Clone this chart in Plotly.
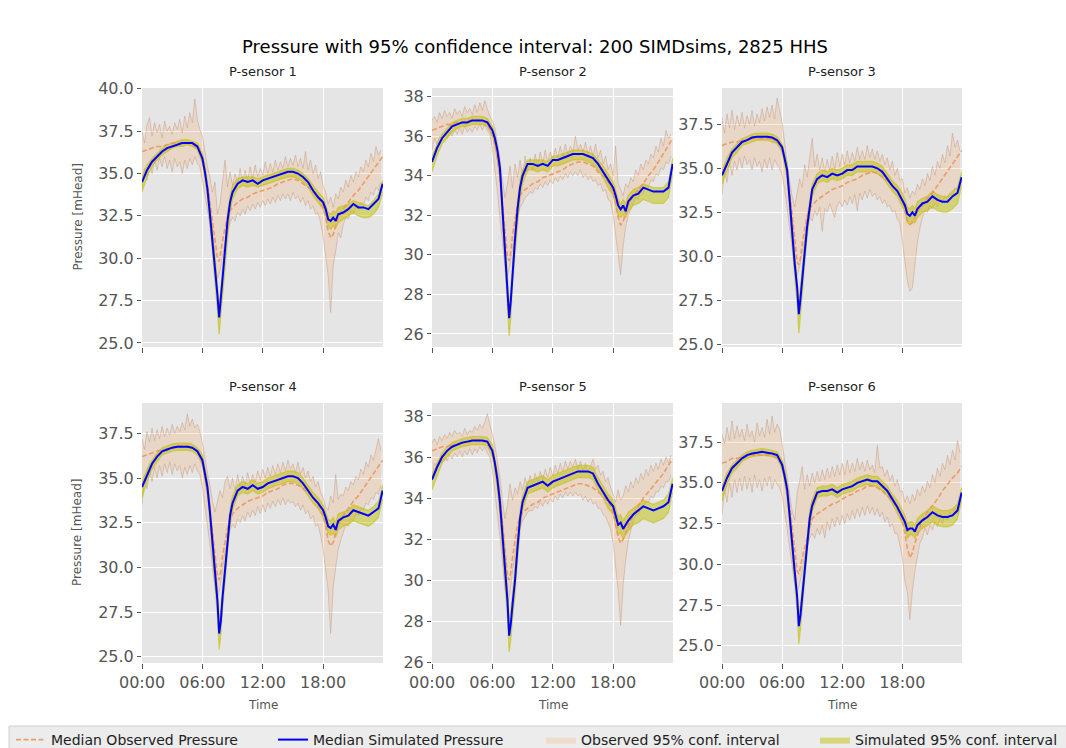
import pandas as pd
import plotly.graph_objects as go

# ---------------------------------------------------------------- data
SENSORS = ["P-sensor 1", "P-sensor 2", "P-sensor 3", "P-sensor 4", "P-sensor 5", "P-sensor 6"]
LEGEND_NAMES = ["Median Observed Pressure", "Median Simulated Pressure",
                "Observed 95% conf. interval", "Simulated 95% conf. interval"]

COARSE_TIMES = ["00:00", "00:30", "01:00", "01:30", "02:00", "02:30", "03:00", "03:30", "04:00", "04:30",
                "05:00", "05:30", "06:00", "06:15", "06:30", "06:45", "07:00", "07:15", "07:30", "07:40",
                "07:50", "08:00", "08:15", "08:30", "08:45", "09:00", "09:30", "10:00", "10:30", "11:00",
                "11:30", "12:00", "12:30", "13:00", "13:30", "14:00", "14:30", "15:00", "15:30", "16:00",
                "16:30", "17:00", "17:30", "18:00", "18:15", "18:30", "18:45", "19:00", "19:15", "19:30",
                "20:00", "20:30", "21:00", "21:30", "22:00", "22:30", "23:00", "23:30", "23:55"]
FINE_START = "2020-01-01 00:00"
FINE_COUNT = 96
FINE_STEP = "15min"

TICK_TIMES = ["00:00", "06:00", "12:00", "18:00"]

# ---- sensor 1
SIM_MED_1 = [34.5, 35.2, 35.7, 36.0, 36.3, 36.5, 36.6, 36.7, 36.8, 36.8, 36.8, 36.6,
             35.9, 35.1, 34.1, 32.6, 31.1, 29.6, 27.8, 26.5, 27.6, 28.5, 30.2, 32.2, 33.3, 33.9,
             34.4, 34.6, 34.5, 34.6, 34.4, 34.6, 34.7, 34.8, 34.9, 35.0, 35.1, 35.1, 35.0, 34.8, 34.5, 34.0, 33.6,
             33.3, 32.9, 32.3, 32.2, 32.4, 32.2, 32.6,
             32.7, 32.9, 33.2, 33.0, 33.0, 32.9, 33.2, 33.5, 34.4]
SIM_LO_1 = [33.9, 34.8, 35.4, 35.8, 36.1, 36.3, 36.5, 36.6, 36.6, 36.7, 36.6, 36.4,
            35.6, 34.7, 33.6, 32.0, 30.4, 28.8, 26.9, 25.5, 26.6, 27.6, 29.3, 31.4, 32.7, 33.5,
            34.1, 34.3, 34.2, 34.3, 34.2, 34.3, 34.4, 34.5, 34.6, 34.7, 34.8, 34.8, 34.7, 34.5, 34.2, 33.7, 33.3,
            32.9, 32.5, 31.9, 31.7, 31.9, 31.8, 32.1,
            32.3, 32.5, 32.7, 32.5, 32.4, 32.4, 32.6, 33.0, 33.9]
SIM_HI_1 = [34.8, 35.5, 35.9, 36.2, 36.5, 36.7, 36.8, 36.9, 37.0, 37.0, 36.9, 36.8,
            36.2, 35.5, 34.5, 33.1, 31.6, 30.2, 28.4, 27.2, 28.2, 29.2, 30.8, 32.7, 33.7, 34.3,
            34.7, 34.8, 34.8, 34.8, 34.7, 34.8, 34.9, 35.0, 35.1, 35.2, 35.3, 35.3, 35.2, 35.0, 34.7, 34.3, 33.9,
            33.6, 33.2, 32.7, 32.6, 32.8, 32.7, 33.0,
            33.1, 33.2, 33.4, 33.3, 33.2, 33.1, 33.4, 33.8, 34.6]
OBS_MED_1 = [36.3, 36.4, 36.5, 36.6, 36.6, 36.7, 36.8, 36.8, 36.8, 36.8, 36.7, 36.5,
             35.9, 35.2, 34.3, 33.3, 32.2, 31.0, 30.0, 29.8, 30.3, 31.0, 31.8, 32.4, 32.8, 33.0,
             33.3, 33.5, 33.6, 33.8, 33.9, 34.0, 34.1, 34.2, 34.4, 34.5, 34.6, 34.7, 34.6, 34.4, 34.2, 33.9, 33.6,
             33.0, 32.4, 31.6, 31.2, 31.4, 31.9, 32.4,
             32.9, 33.3, 33.7, 34.0, 34.4, 34.8, 35.2, 35.6, 36.0]
OBS_HI_1 = [37.5, 36.8, 37.9, 38.3, 37.2, 38.0, 37.4, 37.9, 37.1, 38.1, 37.5, 37.8, 37.3, 38.0, 37.6, 38.2,
            37.4, 38.4, 37.7, 38.6, 38.0, 39.4, 38.2, 37.6, 37.2, 36.3, 35.4, 34.8, 33.9, 34.5, 32.6, 33.2,
            34.7, 35.8, 34.2, 35.1, 34.3, 35.0, 34.4, 35.3, 34.5, 35.2, 34.6, 35.4, 34.7, 35.5, 34.8, 35.3,
            34.9, 35.7, 35.0, 35.6, 35.1, 35.8, 35.2, 35.7, 35.3, 36.0, 35.4, 35.9, 35.5, 36.1, 35.4, 35.9,
            35.3, 36.3, 35.2, 35.8, 35.0, 35.5, 34.7, 35.1, 34.3, 33.9, 33.2, 33.6, 33.0, 33.8, 33.5, 34.2,
            33.9, 34.6, 34.2, 34.9, 34.5, 35.1, 34.8, 35.4, 35.1, 35.8, 35.4, 36.2, 35.7, 36.6, 36.1, 36.4]
OBS_LO_1 = [34.0, 35.3, 34.6, 35.6, 35.0, 35.8, 35.2, 35.9, 35.4, 36.0, 35.3, 35.8, 35.1, 35.9, 35.4, 35.7,
            35.0, 35.8, 35.3, 35.9, 35.5, 36.0, 35.6, 35.4, 34.6, 33.8, 32.9, 32.0, 30.6, 29.6, 28.8, 29.2,
            30.2, 31.0, 31.6, 32.1, 32.4, 32.2, 32.7, 32.5, 32.9, 32.6, 33.1, 32.8, 33.2, 32.9, 33.3, 33.0,
            33.4, 33.1, 33.5, 33.2, 33.6, 33.3, 33.7, 33.4, 33.8, 33.5, 33.8, 33.4, 33.9, 33.5, 33.7, 33.3,
            33.6, 33.1, 33.4, 32.9, 33.1, 32.6, 32.7, 32.1, 31.3, 30.2, 29.0, 26.8, 29.6, 30.4, 31.5, 31.2,
            32.0, 32.4, 32.3, 32.8, 32.6, 33.0, 32.9, 33.3, 33.1, 33.6, 33.4, 33.9, 33.7, 34.2, 34.0, 34.5]

# ---- sensor 2
SIM_MED_2 = [34.7, 35.4, 35.9, 36.2, 36.5, 36.6, 36.7, 36.7, 36.8, 36.8, 36.8, 36.7,
             36.3, 35.9, 35.3, 34.4, 32.4, 30.5, 28.0, 26.8, 27.7, 29.2, 30.8, 32.3, 33.4, 34.0,
             34.6, 34.6, 34.5, 34.6, 34.5, 34.8, 34.8, 34.9, 35.0, 35.1, 35.1, 35.1, 35.0, 34.9, 34.6, 34.2, 33.8,
             33.4, 33.0, 32.5, 32.3, 32.5, 32.2, 32.7,
             33.0, 33.1, 33.4, 33.3, 33.2, 33.2, 33.2, 33.4, 34.6]
SIM_LO_2 = [34.2, 35.0, 35.6, 35.9, 36.2, 36.4, 36.5, 36.5, 36.6, 36.6, 36.6, 36.5,
            36.0, 35.5, 34.8, 33.8, 31.7, 29.7, 27.1, 25.9, 26.8, 28.4, 30.0, 31.6, 32.8, 33.6,
            34.3, 34.3, 34.2, 34.3, 34.2, 34.5, 34.5, 34.6, 34.7, 34.8, 34.8, 34.8, 34.7, 34.6, 34.3, 33.9, 33.4,
            33.0, 32.5, 32.0, 31.9, 32.0, 31.9, 32.2,
            32.5, 32.6, 32.8, 32.7, 32.6, 32.6, 32.6, 32.9, 34.1]
SIM_HI_2 = [35.0, 35.6, 36.1, 36.4, 36.7, 36.8, 36.9, 36.9, 37.0, 37.0, 37.0, 36.9,
            36.5, 36.1, 35.5, 34.7, 32.8, 31.0, 28.6, 27.4, 28.2, 29.7, 31.3, 32.8, 33.8, 34.3,
            34.8, 34.8, 34.8, 34.8, 34.7, 35.0, 35.0, 35.1, 35.2, 35.3, 35.3, 35.3, 35.2, 35.1, 34.8, 34.5, 34.1,
            33.7, 33.3, 32.8, 32.6, 32.8, 32.6, 33.0,
            33.3, 33.4, 33.6, 33.5, 33.4, 33.4, 33.4, 33.7, 34.9]
OBS_MED_2 = [36.3, 36.4, 36.5, 36.6, 36.6, 36.7, 36.7, 36.8, 36.8, 36.8, 36.8, 36.6,
             36.1, 35.6, 34.9, 33.9, 32.6, 31.2, 29.9, 29.7, 30.2, 31.0, 31.9, 32.6, 33.0, 33.2,
             33.4, 33.6, 33.7, 33.9, 34.0, 34.1, 34.2, 34.3, 34.5, 34.6, 34.7, 34.7, 34.6, 34.5, 34.2, 34.0, 33.7,
             33.2, 32.6, 31.9, 31.5, 31.7, 32.1, 32.5,
             33.0, 33.3, 33.6, 34.0, 34.3, 34.7, 35.1, 35.5, 35.9]
OBS_HI_2 = [36.8, 37.0, 36.7, 37.2, 36.9, 37.3, 37.0, 37.2, 36.9, 37.4, 37.1, 37.3, 37.0, 37.5, 37.2, 37.4,
            37.1, 37.6, 37.2, 37.7, 37.3, 37.8, 37.4, 37.0, 36.8, 36.4, 35.7, 34.9, 33.8, 32.9, 33.6, 34.5,
            33.4, 34.6, 33.9, 34.8, 34.0, 35.0, 34.2, 34.9, 34.3, 35.1, 34.5, 35.2, 34.6, 35.3, 34.7, 35.2,
            34.8, 35.4, 34.9, 35.5, 35.0, 35.6, 35.1, 35.5, 35.2, 36.0, 35.3, 35.6, 35.2, 35.7, 35.1, 35.5,
            35.0, 35.6, 34.9, 35.3, 34.6, 35.0, 34.3, 34.6, 34.0, 35.5, 33.6, 33.3, 33.0, 33.6, 33.4, 33.9,
            33.7, 34.3, 34.0, 34.6, 34.3, 34.8, 34.6, 35.1, 34.9, 35.5, 35.2, 35.9, 35.5, 36.3, 35.9, 36.1]
OBS_LO_2 = [35.3, 35.9, 35.6, 36.0, 35.8, 36.1, 35.9, 36.2, 36.0, 36.3, 36.1, 36.4, 36.1, 36.5, 36.2, 36.4,
            36.2, 36.5, 36.3, 36.6, 36.3, 36.6, 36.3, 36.1, 35.4, 34.4, 33.2, 31.9, 30.7, 29.4, 28.9, 29.5,
            30.3, 31.2, 31.9, 32.4, 32.6, 32.9, 33.0, 33.2, 33.1, 33.4, 33.3, 33.6, 33.4, 33.7, 33.5, 33.8,
            33.6, 33.9, 33.7, 34.0, 33.8, 34.1, 33.9, 34.2, 34.0, 34.2, 34.0, 34.3, 33.9, 34.1, 33.8, 34.0,
            33.7, 33.8, 33.5, 33.6, 33.2, 33.3, 32.8, 32.7, 32.0, 31.0, 29.9, 29.0, 30.5, 31.4, 32.0, 32.3,
            32.6, 32.9, 32.8, 33.2, 33.1, 33.5, 33.4, 33.8, 33.7, 34.1, 34.0, 34.4, 34.3, 34.7, 34.6, 35.0]

# ---- sensor 3
SIM_MED_3 = [34.6, 35.3, 35.9, 36.2, 36.5, 36.6, 36.75, 36.8, 36.8, 36.8, 36.75, 36.6,
             36.2, 35.6, 34.9, 33.2, 31.3, 29.6, 28.2, 26.7, 27.6, 28.8, 30.2, 31.7, 32.9, 33.8,
             34.4, 34.6, 34.5, 34.7, 34.6, 34.7, 34.9, 34.9, 35.1, 35.1, 35.1, 35.1, 35.0, 34.8, 34.4, 34.0, 33.7,
             33.2, 32.9, 32.4, 32.3, 32.5, 32.3, 32.7,
             33.0, 33.1, 33.4, 33.2, 33.1, 33.1, 33.4, 33.6, 34.5]
SIM_LO_3 = [34.1, 34.9, 35.6, 35.9, 36.3, 36.4, 36.5, 36.6, 36.6, 36.6, 36.5, 36.4,
            35.9, 35.2, 34.4, 32.6, 30.6, 28.8, 27.3, 25.6, 26.6, 28.0, 29.5, 31.1, 32.4, 33.4,
            34.1, 34.3, 34.2, 34.4, 34.3, 34.4, 34.6, 34.6, 34.8, 34.8, 34.8, 34.8, 34.7, 34.5, 34.1, 33.7, 33.4,
            32.8, 32.5, 31.9, 31.8, 32.0, 31.9, 32.2,
            32.5, 32.6, 32.8, 32.6, 32.5, 32.5, 32.7, 33.0, 34.0]
SIM_HI_3 = [34.9, 35.6, 36.1, 36.4, 36.7, 36.8, 36.95, 37.0, 37.0, 37.0, 36.95, 36.8,
            36.4, 35.9, 35.3, 33.7, 31.9, 30.2, 28.8, 27.4, 28.3, 29.4, 30.8, 32.2, 33.3, 34.1,
            34.7, 34.9, 34.8, 35.0, 34.9, 35.0, 35.2, 35.2, 35.4, 35.4, 35.4, 35.4, 35.3, 35.1, 34.7, 34.3, 34.0,
            33.6, 33.2, 32.8, 32.7, 32.9, 32.7, 33.1,
            33.3, 33.4, 33.7, 33.5, 33.4, 33.4, 33.7, 33.9, 34.8]
OBS_MED_3 = [36.3, 36.4, 36.5, 36.5, 36.6, 36.6, 36.7, 36.7, 36.7, 36.7, 36.7, 36.5,
             36.1, 35.6, 34.8, 33.7, 32.4, 31.0, 29.7, 29.5, 29.9, 30.7, 31.6, 32.3, 32.7, 32.9,
             33.2, 33.4, 33.6, 33.8, 33.9, 34.0, 34.2, 34.3, 34.4, 34.6, 34.7, 34.8, 34.7, 34.5, 34.3, 34.0, 33.7,
             33.2, 32.6, 32.0, 31.8, 31.9, 32.2, 32.5,
             32.9, 33.3, 33.6, 34.0, 34.4, 34.8, 35.2, 35.6, 36.0]
OBS_HI_3 = [37.9, 37.0, 38.1, 37.3, 38.3, 37.2, 38.0, 37.4, 38.2, 37.3, 38.0, 37.5, 38.3, 37.4, 38.1, 37.6,
            38.4, 37.7, 38.5, 37.9, 38.6, 37.8, 39.0, 38.2, 37.6, 36.5, 35.2, 34.3, 33.4, 32.8, 33.6, 34.4,
            33.9, 35.2, 34.5, 35.6, 36.7, 35.1, 35.8, 34.9, 35.6, 34.8, 35.5, 34.9, 35.7, 35.0, 35.9, 35.1,
            35.8, 35.2, 36.0, 35.3, 35.9, 35.4, 36.2, 35.5, 36.0, 35.5, 36.3, 35.6, 36.1, 35.5, 36.0, 35.4,
            35.8, 35.2, 35.6, 34.9, 35.4, 34.6, 35.0, 34.3, 34.4, 33.6, 33.9, 33.3, 33.7, 33.5, 34.1, 33.8,
            34.4, 34.0, 34.7, 34.3, 35.1, 34.6, 35.4, 35.0, 35.8, 35.3, 36.3, 35.7, 37.0, 36.2, 36.6, 36.0]
OBS_LO_3 = [33.5, 34.8, 34.2, 35.3, 34.6, 35.4, 34.9, 35.6, 35.0, 35.7, 35.2, 35.5, 34.9, 35.6, 35.1, 35.4,
            34.8, 35.5, 35.0, 35.6, 34.9, 35.5, 35.2, 35.0, 34.6, 33.8, 32.7, 31.6, 30.3, 29.4, 28.9, 29.4,
            30.2, 31.0, 31.6, 32.2, 32.0, 32.6, 32.3, 32.8, 31.4, 32.7, 32.5, 33.0, 32.6, 32.2, 32.9, 33.1,
            32.8, 33.2, 32.9, 33.4, 33.0, 33.5, 32.6, 33.6, 33.2, 33.7, 33.3, 33.8, 33.4, 33.6, 33.2, 33.4,
            33.0, 33.2, 32.8, 32.9, 32.5, 32.6, 32.1, 31.9, 30.8, 29.6, 28.6, 28.0, 28.2, 29.5, 30.8, 31.6,
            32.2, 32.6, 32.5, 32.9, 32.7, 33.0, 32.8, 33.2, 33.0, 33.4, 33.2, 33.6, 33.4, 33.9, 33.7, 34.2]

# ---- sensor 4
SIM_MED_4 = [34.5, 35.2, 35.8, 36.2, 36.5, 36.6, 36.7, 36.75, 36.75, 36.75, 36.7, 36.5,
             36.0, 35.3, 34.5, 33.1, 31.5, 29.9, 28.1, 26.3, 27.0, 28.3, 29.9, 31.6, 32.9, 33.6,
             34.3, 34.5, 34.4, 34.6, 34.4, 34.5, 34.7, 34.8, 34.9, 35.0, 35.1, 35.1, 35.0, 34.7, 34.3, 33.9, 33.6,
             33.2, 32.8, 32.3, 32.2, 32.4, 32.1, 32.6,
             32.8, 32.9, 33.2, 33.1, 33.0, 32.9, 33.1, 33.3, 34.3]
SIM_LO_4 = [33.9, 34.8, 35.5, 35.9, 36.3, 36.4, 36.5, 36.55, 36.55, 36.55, 36.5, 36.3,
            35.7, 34.9, 34.0, 32.5, 30.8, 29.1, 27.2, 25.4, 26.2, 27.6, 29.2, 30.9, 32.3, 33.2,
            34.0, 34.2, 34.1, 34.3, 34.1, 34.2, 34.4, 34.5, 34.6, 34.7, 34.8, 34.8, 34.7, 34.4, 34.0, 33.6, 33.3,
            32.8, 32.4, 31.9, 31.8, 31.9, 31.7, 32.1,
            32.3, 32.4, 32.6, 32.5, 32.4, 32.3, 32.5, 32.8, 33.8]
SIM_HI_4 = [34.8, 35.5, 36.0, 36.4, 36.7, 36.8, 36.9, 36.95, 36.95, 36.95, 36.9, 36.7,
            36.3, 35.6, 34.9, 33.6, 32.1, 30.5, 28.7, 27.0, 27.6, 28.9, 30.5, 32.1, 33.3, 34.0,
            34.6, 34.8, 34.7, 34.9, 34.7, 34.8, 35.0, 35.1, 35.2, 35.3, 35.4, 35.4, 35.3, 35.0, 34.6, 34.2, 33.9,
            33.5, 33.1, 32.7, 32.6, 32.8, 32.5, 33.0,
            33.1, 33.2, 33.5, 33.4, 33.3, 33.2, 33.4, 33.7, 34.6]
OBS_MED_4 = [36.2, 36.3, 36.4, 36.5, 36.6, 36.6, 36.7, 36.8, 36.8, 36.8, 36.7, 36.5,
             35.9, 35.2, 34.3, 33.2, 32.0, 30.7, 29.5, 29.3, 29.8, 30.6, 31.5, 32.2, 32.7, 33.0,
             33.3, 33.5, 33.7, 33.8, 33.9, 34.0, 34.2, 34.3, 34.4, 34.6, 34.7, 34.7, 34.6, 34.4, 34.2, 33.9, 33.5,
             32.9, 32.3, 31.5, 31.2, 31.4, 31.9, 32.4,
             32.9, 33.3, 33.7, 34.0, 34.4, 34.8, 35.2, 35.6, 36.0]
OBS_HI_4 = [37.2, 36.6, 37.6, 37.0, 37.8, 37.1, 37.7, 37.2, 37.9, 37.3, 37.8, 37.4, 38.0, 37.5, 37.9, 37.6,
            38.1, 37.7, 38.6, 37.9, 38.3, 37.8, 38.0, 37.6, 37.0, 36.1, 35.3, 34.6, 33.7, 33.1, 33.8, 34.3,
            33.9, 34.8, 35.1, 34.4, 35.0, 34.3, 35.2, 34.5, 35.1, 34.6, 35.3, 34.7, 35.2, 34.8, 35.4, 34.9,
            35.5, 35.0, 35.6, 35.1, 35.7, 35.2, 35.8, 35.3, 35.9, 35.4, 36.0, 35.5, 35.8, 35.3, 35.9, 35.2,
            35.6, 35.0, 35.4, 34.8, 35.1, 34.5, 34.8, 34.2, 33.9, 33.4, 33.2, 34.0, 33.6, 35.2, 33.8, 34.1,
            34.0, 34.5, 34.3, 34.8, 34.6, 35.1, 34.9, 35.5, 35.2, 35.9, 35.6, 36.3, 36.0, 36.7, 37.2, 36.5]
OBS_LO_4 = [33.5, 35.0, 34.4, 35.4, 34.8, 35.6, 35.0, 35.7, 35.1, 35.8, 35.3, 35.9, 35.2, 35.8, 35.4, 35.7,
            35.0, 35.6, 35.2, 35.7, 35.3, 35.8, 35.4, 35.2, 34.5, 33.5, 32.5, 31.3, 30.0, 28.9, 28.3, 28.9,
            29.8, 30.9, 31.5, 32.1, 32.4, 32.2, 32.7, 32.5, 32.9, 32.6, 33.1, 32.8, 33.2, 32.9, 33.4, 33.0,
            33.5, 33.1, 33.6, 33.3, 33.7, 33.4, 33.8, 33.5, 33.9, 33.5, 33.8, 33.6, 33.7, 33.4, 33.6, 33.2,
            33.5, 33.0, 33.2, 32.7, 32.9, 32.3, 32.4, 31.8, 31.0, 29.8, 28.7, 26.3, 28.9, 30.0, 31.0, 31.5,
            32.0, 32.4, 32.3, 32.7, 32.6, 33.0, 32.9, 33.3, 33.2, 33.6, 33.5, 33.9, 33.8, 34.2, 34.1, 34.6]

# ---- sensor 5
SIM_MED_5 = [34.9, 35.5, 36.0, 36.3, 36.5, 36.6, 36.7, 36.75, 36.8, 36.8, 36.8, 36.75,
             36.3, 35.7, 34.9, 33.8, 32.3, 30.9, 29.0, 27.3, 27.9, 28.8, 30.0, 31.6, 33.0, 33.8,
             34.5, 34.6, 34.7, 34.8, 34.6, 34.8, 34.9, 35.0, 35.1, 35.2, 35.3, 35.3, 35.3, 35.2, 34.7, 34.3, 33.9,
             33.6, 33.2, 32.7, 32.8, 32.5, 32.7, 32.9,
             33.2, 33.4, 33.6, 33.5, 33.4, 33.5, 33.6, 33.8, 34.7]
SIM_LO_5 = [34.4, 35.1, 35.7, 36.0, 36.3, 36.4, 36.5, 36.55, 36.6, 36.6, 36.6, 36.55,
            36.0, 35.3, 34.4, 33.2, 31.6, 30.1, 28.1, 26.5, 27.1, 28.1, 29.3, 30.9, 32.4, 33.4,
            34.2, 34.3, 34.4, 34.5, 34.3, 34.5, 34.6, 34.7, 34.8, 34.9, 35.0, 35.0, 35.0, 34.9, 34.4, 34.0, 33.5,
            33.2, 32.7, 32.2, 32.3, 32.0, 32.2, 32.4,
            32.7, 32.8, 33.0, 32.9, 32.8, 32.9, 33.0, 33.3, 34.3]
SIM_HI_5 = [35.1, 35.7, 36.2, 36.5, 36.7, 36.8, 36.9, 36.95, 37.0, 37.0, 37.0, 36.95,
            36.6, 36.0, 35.3, 34.3, 32.9, 31.5, 29.6, 28.0, 28.5, 29.4, 30.6, 32.2, 33.4, 34.1,
            34.8, 34.9, 35.0, 35.1, 34.9, 35.1, 35.2, 35.3, 35.4, 35.5, 35.6, 35.6, 35.6, 35.5, 35.0, 34.6, 34.2,
            33.9, 33.5, 33.1, 33.2, 32.9, 33.1, 33.3,
            33.5, 33.7, 33.9, 33.8, 33.7, 33.8, 33.9, 34.2, 35.0]
OBS_MED_5 = [36.3, 36.4, 36.5, 36.5, 36.6, 36.6, 36.7, 36.7, 36.8, 36.8, 36.8, 36.7,
             36.2, 35.7, 35.0, 34.0, 32.8, 31.4, 30.2, 30.0, 30.4, 31.1, 32.0, 32.7, 33.1, 33.3,
             33.5, 33.7, 33.8, 34.0, 34.1, 34.2, 34.3, 34.4, 34.5, 34.6, 34.7, 34.7, 34.6, 34.5, 34.3, 34.1, 33.8,
             33.3, 32.7, 32.1, 31.8, 32.0, 32.3, 32.6,
             33.2, 33.6, 34.0, 34.3, 34.6, 34.9, 35.2, 35.6, 35.9]
OBS_HI_5 = [36.7, 36.9, 36.6, 37.0, 36.8, 37.1, 36.9, 37.2, 37.0, 37.3, 37.1, 37.2, 37.0, 37.4, 37.1, 37.3,
            37.2, 37.5, 37.3, 37.6, 37.4, 37.7, 38.1, 37.6, 37.2, 36.6, 35.8, 35.0, 33.9, 33.0, 33.7, 34.7,
            33.9, 34.5, 34.2, 34.8, 34.4, 35.0, 34.6, 35.1, 34.6, 35.2, 34.8, 35.3, 34.9, 35.4, 35.0, 35.5,
            35.1, 35.6, 35.2, 35.7, 35.3, 35.8, 35.4, 35.8, 35.5, 35.9, 35.4, 35.8, 35.3, 35.7, 35.2, 35.6,
            35.9, 35.4, 35.6, 35.1, 35.3, 34.8, 35.0, 34.5, 34.2, 33.8, 34.4, 33.9, 34.1, 34.6, 34.3, 34.8,
            34.5, 35.0, 34.7, 35.2, 34.9, 35.4, 35.1, 35.6, 35.3, 35.7, 35.4, 35.9, 35.6, 36.0, 35.7, 36.1]
OBS_LO_5 = [35.0, 35.7, 35.5, 35.9, 35.7, 36.0, 35.8, 36.1, 35.9, 36.2, 36.0, 36.3, 36.0, 36.3, 36.1, 36.4,
            36.1, 36.4, 36.2, 36.5, 36.3, 36.5, 36.2, 36.0, 35.4, 34.4, 33.3, 32.1, 30.9, 29.6, 28.8, 29.4,
            30.4, 31.4, 32.1, 32.6, 32.9, 33.1, 33.3, 33.4, 33.4, 33.6, 33.5, 33.8, 33.6, 33.9, 33.7, 34.0,
            33.8, 34.1, 33.9, 34.2, 34.0, 34.3, 34.1, 34.3, 34.1, 34.3, 34.1, 34.2, 33.9, 34.1, 33.8, 34.0,
            33.7, 33.8, 33.5, 33.5, 33.2, 33.1, 32.8, 32.5, 31.8, 30.6, 29.5, 27.8, 29.8, 31.0, 31.9, 32.4,
            32.9, 33.2, 33.2, 33.5, 33.5, 33.8, 33.8, 34.1, 34.0, 34.3, 34.3, 34.6, 34.5, 34.8, 34.8, 35.1]

# ---- sensor 6
SIM_MED_6 = [34.5, 35.3, 35.9, 36.2, 36.5, 36.7, 36.8, 36.85, 36.9, 36.85, 36.8, 36.7,
             36.1, 35.4, 34.6, 33.0, 31.1, 29.6, 28.0, 26.2, 26.9, 28.0, 29.7, 31.4, 32.8, 33.6,
             34.4, 34.5, 34.5, 34.6, 34.4, 34.6, 34.7, 34.8, 35.0, 35.1, 35.2, 35.1, 35.1, 34.8, 34.5, 34.0, 33.5,
             32.9, 32.6, 32.1, 32.2, 32.2, 32.0, 32.4,
             32.7, 32.9, 33.2, 33.0, 32.9, 32.9, 33.0, 33.3, 34.4]
SIM_LO_6 = [33.9, 34.9, 35.6, 35.9, 36.3, 36.5, 36.6, 36.65, 36.7, 36.65, 36.6, 36.5,
            35.8, 35.0, 34.1, 32.4, 30.4, 28.8, 27.1, 25.1, 26.0, 27.3, 29.0, 30.7, 32.2, 33.2,
            34.1, 34.2, 34.2, 34.3, 34.1, 34.3, 34.4, 34.5, 34.7, 34.8, 34.9, 34.8, 34.8, 34.5, 34.2, 33.7, 33.1,
            32.5, 32.2, 31.6, 31.8, 31.8, 31.6, 31.9,
            32.2, 32.4, 32.6, 32.4, 32.3, 32.3, 32.4, 32.8, 33.9]
SIM_HI_6 = [34.8, 35.6, 36.1, 36.4, 36.7, 36.9, 37.0, 37.05, 37.1, 37.05, 37.0, 36.9,
            36.4, 35.8, 35.0, 33.5, 31.7, 30.2, 28.6, 26.9, 27.6, 28.7, 30.3, 32.0, 33.3, 34.0,
            34.7, 34.8, 34.8, 34.9, 34.7, 34.9, 35.0, 35.1, 35.3, 35.4, 35.5, 35.4, 35.4, 35.1, 34.8, 34.3, 33.9,
            33.3, 33.0, 32.5, 32.6, 32.6, 32.4, 32.8,
            33.1, 33.3, 33.6, 33.4, 33.3, 33.3, 33.4, 33.7, 34.7]
OBS_MED_6 = [36.2, 36.3, 36.5, 36.5, 36.6, 36.6, 36.7, 36.7, 36.7, 36.7, 36.7, 36.5,
             36.2, 35.6, 34.8, 33.6, 32.3, 30.9, 29.6, 29.4, 29.8, 30.4, 31.0, 31.7, 32.3, 32.8,
             33.1, 33.3, 33.5, 33.7, 33.8, 34.0, 34.2, 34.3, 34.5, 34.6, 34.8, 34.8, 34.7, 34.5, 34.2, 33.9, 33.4,
             32.7, 31.9, 31.0, 30.4, 30.7, 31.3, 31.8,
             32.7, 33.2, 33.6, 34.0, 34.5, 34.9, 35.3, 35.6, 36.0]
OBS_HI_6 = [38.0, 37.4, 38.4, 37.6, 38.8, 37.7, 38.5, 37.8, 38.3, 37.6, 38.6, 37.8, 38.2, 37.5, 38.7, 37.9,
            38.4, 37.8, 38.9, 38.0, 39.1, 38.1, 38.6, 38.3, 37.4, 36.4, 35.2, 34.2, 33.3, 32.7, 34.4, 35.1,
            36.0, 34.6, 35.5, 34.8, 35.6, 35.0, 35.7, 35.1, 35.8, 35.2, 35.9, 35.3, 36.0, 35.4, 36.1, 35.5,
            36.2, 35.5, 36.4, 35.6, 36.2, 35.7, 36.5, 35.8, 36.3, 35.7, 36.4, 35.8, 36.1, 35.6, 37.3, 35.9,
            36.0, 35.4, 35.8, 35.1, 35.5, 34.8, 35.2, 34.5, 34.5, 33.8, 34.2, 33.7, 34.3, 33.9, 34.6, 34.2,
            34.8, 34.4, 35.1, 34.7, 35.5, 35.0, 35.9, 35.4, 36.2, 35.8, 36.7, 36.1, 37.0, 36.4, 37.6, 36.8]
OBS_LO_6 = [33.0, 34.6, 33.8, 35.0, 34.1, 35.2, 34.4, 35.3, 34.5, 35.4, 34.6, 35.3, 34.4, 35.5, 34.7, 35.2,
            34.5, 35.3, 34.8, 35.4, 34.6, 35.2, 34.9, 34.7, 34.2, 33.3, 32.2, 31.0, 29.8, 28.8, 28.3, 28.8,
            29.6, 30.5, 31.1, 31.6, 31.9, 31.6, 32.2, 31.8, 32.4, 31.6, 32.6, 32.1, 32.8, 32.3, 32.9, 32.4,
            33.0, 32.5, 33.1, 32.7, 33.3, 32.8, 33.4, 32.9, 33.5, 33.0, 33.6, 33.1, 33.5, 33.0, 33.4, 32.9,
            33.2, 32.6, 32.9, 32.3, 32.5, 31.9, 31.9, 31.2, 30.4, 29.0, 28.3, 26.6, 28.4, 29.6, 30.6, 31.3,
            31.6, 32.2, 31.8, 32.4, 32.1, 32.6, 32.3, 32.8, 32.5, 33.0, 32.7, 33.2, 32.9, 33.4, 33.1, 33.6]

SIM_MED = [SIM_MED_1, SIM_MED_2, SIM_MED_3, SIM_MED_4, SIM_MED_5, SIM_MED_6]
SIM_LO = [SIM_LO_1, SIM_LO_2, SIM_LO_3, SIM_LO_4, SIM_LO_5, SIM_LO_6]
SIM_HI = [SIM_HI_1, SIM_HI_2, SIM_HI_3, SIM_HI_4, SIM_HI_5, SIM_HI_6]
OBS_MED = [OBS_MED_1, OBS_MED_2, OBS_MED_3, OBS_MED_4, OBS_MED_5, OBS_MED_6]
OBS_LO = [OBS_LO_1, OBS_LO_2, OBS_LO_3, OBS_LO_4, OBS_LO_5, OBS_LO_6]
OBS_HI = [OBS_HI_1, OBS_HI_2, OBS_HI_3, OBS_HI_4, OBS_HI_5, OBS_HI_6]

Y_RANGES = [(24.76, 40.05), (25.34, 38.44), (24.83, 39.57), (24.65, 39.2), (25.97, 38.63), (23.94, 39.9)]
Y_DTICK = [2.5, 2, 2.5, 2.5, 2, 2.5]

# ---------------------------------------------------------------- layout helpers
W, H = 1066, 748
DAY = "2020-01-01 "
t_coarse = pd.to_datetime([DAY + t for t in COARSE_TIMES])
t_fine = pd.date_range(FINE_START, periods=FINE_COUNT, freq=FINE_STEP)
tick_vals = pd.to_datetime([DAY + t for t in TICK_TIMES])

COL_PX = [(142, 383), (432, 673), (722, 962)]
ROW_PX = [(88, 347), (403, 663)]
LEGEND_X_PX = [11, 273, 541, 815]

OBS_FILL = "rgba(244,164,96,0.22)"
OBS_EDGE = "rgba(195,150,125,0.5)"
OBS_MED_C = "rgba(235,150,95,0.9)"
SIM_FILL = "rgba(191,191,0,0.48)"
SIM_EDGE = "rgba(191,191,0,0.55)"
GREY = "#555555"
FONT = "DejaVu Sans"
LEG_IDS = ["legend", "legend2", "legend3", "legend4"]

fig = go.Figure()
annotations = []
layout_axes = {}

for i in range(6):
    r, c = divmod(i, 3)
    n = "" if i == 0 else str(i + 1)
    xa, ya = "x" + n, "y" + n
    x0, x1 = COL_PX[c]
    y0, y1 = ROW_PX[r]
    first = i == 0

    # observed CI
    fig.add_trace(go.Scatter(x=t_fine, y=OBS_LO[i], xaxis=xa, yaxis=ya, mode="lines",
                             line=dict(color=OBS_EDGE, width=0.9), showlegend=False, hoverinfo="skip"))
    fig.add_trace(go.Scatter(x=t_fine, y=OBS_HI[i], xaxis=xa, yaxis=ya, mode="lines", fill="tonexty",
                             fillcolor=OBS_FILL, line=dict(color=OBS_EDGE, width=0.9),
                             showlegend=False, hoverinfo="skip"))
    # simulated CI
    fig.add_trace(go.Scatter(x=t_coarse, y=SIM_LO[i], xaxis=xa, yaxis=ya, mode="lines",
                             line=dict(color=SIM_EDGE, width=1.2), showlegend=False, hoverinfo="skip"))
    fig.add_trace(go.Scatter(x=t_coarse, y=SIM_HI[i], xaxis=xa, yaxis=ya, mode="lines", fill="tonexty",
                             fillcolor=SIM_FILL, line=dict(color=SIM_EDGE, width=1.2),
                             showlegend=False, hoverinfo="skip"))
    # medians
    fig.add_trace(go.Scatter(x=t_coarse, y=OBS_MED[i], xaxis=xa, yaxis=ya, mode="lines",
                             line=dict(color=OBS_MED_C, width=1.6, dash="5px,2.5px"),
                             name=LEGEND_NAMES[0], legend=LEG_IDS[0], showlegend=first))
    fig.add_trace(go.Scatter(x=t_coarse, y=SIM_MED[i], xaxis=xa, yaxis=ya, mode="lines",
                             line=dict(color="#0000FF", width=2),
                             name=LEGEND_NAMES[1], legend=LEG_IDS[1], showlegend=first))

    bottom = r == 1
    layout_axes["xaxis" + n] = dict(
        domain=[x0 / W, x1 / W], anchor=ya,
        range=[pd.Timestamp(DAY + "00:00"), pd.Timestamp(DAY + "23:57")],
        tickvals=tick_vals, ticktext=TICK_TIMES, showticklabels=bottom,
        ticks="outside", ticklen=5, tickcolor=GREY, tickwidth=1,
        tickfont=dict(family=FONT, size=16, color=GREY),
        showgrid=True, gridcolor="white", gridwidth=1, zeroline=False, showline=False,
    )
    lo, hi = Y_RANGES[i]
    layout_axes["yaxis" + n] = dict(
        domain=[1 - y1 / H, 1 - y0 / H], anchor=xa, range=[lo, hi],
        tick0=0, dtick=Y_DTICK[i], tickformat=".1f" if Y_DTICK[i] == 2.5 else "d",
        ticks="outside", ticklen=4, tickcolor=GREY, tickwidth=1,
        tickfont=dict(family=FONT, size=16, color=GREY),
        showgrid=True, gridcolor="white", gridwidth=1, zeroline=False, showline=False,
    )
    # subplot title
    annotations.append(dict(text=SENSORS[i], x=(x0 + x1) / 2 / W, y=1 - (y0 - 16) / H,
                            xref="paper", yref="paper", showarrow=False, xanchor="center",
                            yanchor="middle", font=dict(family=FONT, size=13, color="#222222")))
    if c == 0:
        annotations.append(dict(text="Pressure [mHead]", x=77 / W, y=1 - (y0 + y1) / 2 / H,
                                xref="paper", yref="paper", showarrow=False, textangle=-90,
                                xanchor="center", yanchor="middle",
                                font=dict(family=FONT, size=12, color=GREY)))
    if bottom:
        annotations.append(dict(text="Time", x=(x0 + x1) / 2 / W, y=1 - 705 / H,
                                xref="paper", yref="paper", showarrow=False,
                                xanchor="center", yanchor="middle",
                                font=dict(family=FONT, size=12, color=GREY)))

# legend-only patches
fig.add_trace(go.Scatter(x=[None], y=[None], mode="lines", fill="toself", fillcolor=OBS_FILL,
                         line=dict(width=0), name=LEGEND_NAMES[2], legend=LEG_IDS[2]))
fig.add_trace(go.Scatter(x=[None], y=[None], mode="lines", fill="toself", fillcolor=SIM_FILL,
                         line=dict(width=0), name=LEGEND_NAMES[3], legend=LEG_IDS[3]))

legends = {}
for k, lid in enumerate(LEG_IDS):
    legends[lid] = dict(orientation="h", x=LEGEND_X_PX[k] / W, y=1 - 724 / H,
                        xanchor="left", yanchor="top", bgcolor="rgba(0,0,0,0)", borderwidth=0,
                        font=dict(family=FONT, size=14, color="#222222"))

fig.update_layout(
    width=W, height=H,
    margin=dict(l=0, r=0, t=0, b=0, autoexpand=False),
    paper_bgcolor="white", plot_bgcolor="#E5E5E5",
    font=dict(family=FONT, color="#222222"),
    title=dict(text="Pressure with 95% confidence interval: 200 SIMDsims, 2825 HHS",
               x=535 / W, y=1 - 47 / H, xanchor="center", yanchor="middle",
               font=dict(family=FONT, size=18, color="#000000")),
    shapes=[dict(type="rect", xref="paper", yref="paper", x0=9 / W, x1=1.01, y0=-0.01,
                 y1=1 - 726 / H, fillcolor="rgb(236,236,236)", line=dict(color="#d0d0d0", width=1),
                 layer="above")],
    annotations=annotations,
    showlegend=True,
    **legends,
    **layout_axes,
)

fig.write_html("out.html")
